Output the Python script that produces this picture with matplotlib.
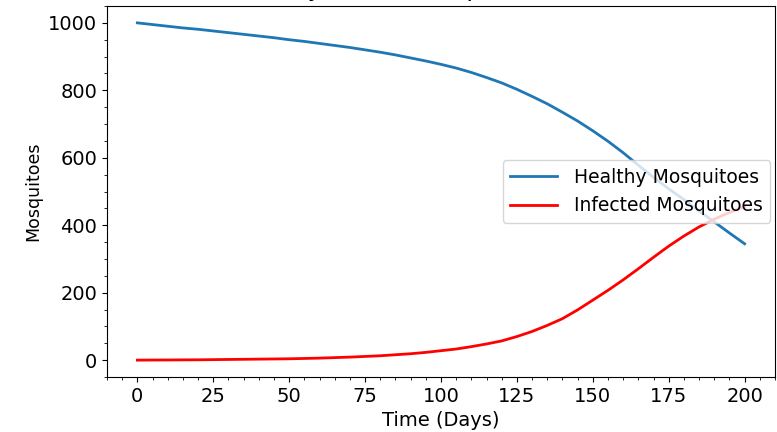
import matplotlib
matplotlib.use('Agg')
import matplotlib.pyplot as plt

# values, every 5 days
days = [0, 5, 10, 15, 20, 25, 30, 35, 40, 45, 50, 55, 60, 65, 70, 75, 80,
        85, 90, 95, 100, 105, 110, 115, 120, 125, 130, 135, 140, 145, 150,
        155, 160, 165, 170, 175, 180, 185, 190, 195, 200]
healthy = [1000, 995, 990, 985, 981, 976, 971, 966, 961, 956, 950, 945, 939,
           933, 927, 920, 913, 905, 896, 887, 877, 866, 853, 838, 822, 803,
           782, 760, 735, 709, 680, 649, 615, 578, 542, 508, 476, 442, 410,
           377, 345]
infected = [0, 0.3, 0.5, 0.8, 1, 1.5, 2, 2.5, 3, 3.5, 4, 5, 6, 7.5, 9, 11, 13,
            16, 19, 23, 28, 33, 40, 48, 57, 70, 85, 103, 123, 149, 178, 207,
            238, 271, 305, 338, 368, 395, 418, 438, 455]

plt.rcParams['font.size'] = 14

fig = plt.figure(figsize=(7.77, 4.32), dpi=100)
ax = fig.add_axes([0.1377, 0.1273, 0.8597, 0.8588])

ax.plot(days, healthy, color='#1f77b4', lw=2, label='Healthy Mosquitoes')
ax.plot(days, infected, color='red', lw=2, label='Infected Mosquitoes')

ax.minorticks_on()
ax.set_xlabel('Time (Days)')
ax.set_ylabel('Mosquitoes', fontsize=12.5)
# the title sits above the cropped top edge, only its descenders show
ax.set_title('Healthy, Infected Population Counts', pad=7)
ax.legend(loc='center right', fontsize=13.5, handlelength=2.5,
          handletextpad=0.9, borderaxespad=0.25)

fig.savefig('out.png', dpi=100)
